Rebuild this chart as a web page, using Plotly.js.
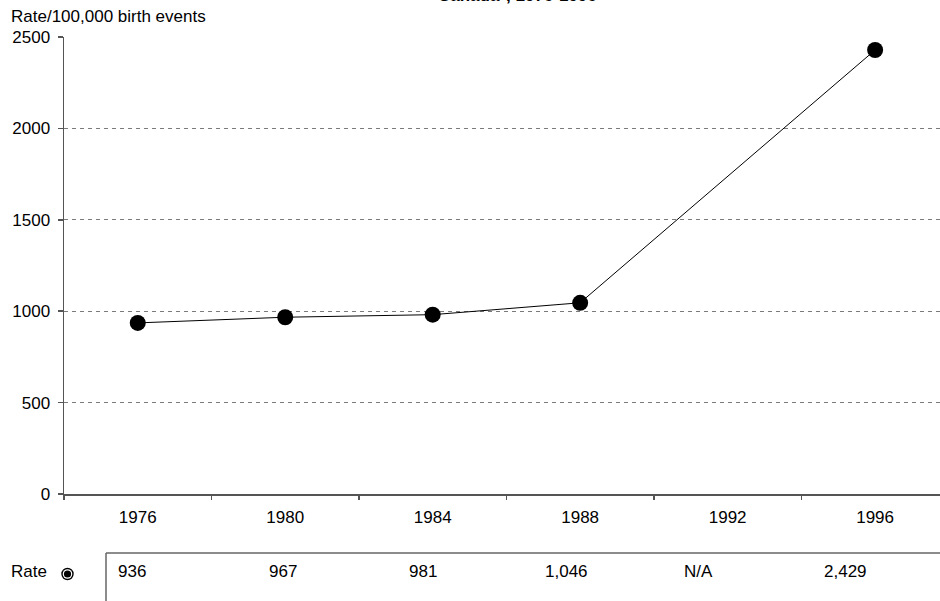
<!DOCTYPE html>
<html>
<head>
<meta charset="utf-8">
<script src="https://cdn.plot.ly/plotly-3.0.1.min.js"></script>
<style>
  html, body { margin: 0; padding: 0; background: #fff; }
  #chart { width: 940px; height: 601px; }
</style>
</head>
<body>
<div id="chart"></div>
<script>
// Rate per 100,000 birth events, Canada, 1976-1996 (1992 not available)
const years = ['1976', '1980', '1984', '1988', '1992', '1996'];
const rates = [936, 967, 981, 1046, null, 2429];
const tableLabels = ['936', '967', '981', '1,046', 'N/A', '2,429'];
const seriesName = 'Rate';
const chartTitle = 'Canada*, 1976-1996';
const yAxisLabel = 'Rate/100,000 birth events';

const W = 940, H = 601;
const M = { l: 64, r: 0, t: 37, b: 107 };
const plotW = W - M.l - M.r;
const plotH = H - M.t - M.b;
// pixel -> paper coordinate helpers for the table below the plot
const px2x = px => (px - M.l) / plotW;
const py2y = py => (H - M.b - py) / plotH;

const FONT = 'Liberation Sans, Arial, sans-serif';
const FS = 17;
const AXIS = '#555555';

// data table below the plot
const tableTop = 553;
const tableLeft = 106;
const rowY = 571;
const colLeft = [116, 267, 407, 543, 682, 822];

const annotations = [
  {
    text: yAxisLabel, xref: 'paper', yref: 'paper',
    x: px2x(9), y: py2y(17), xanchor: 'left', yanchor: 'middle',
    showarrow: false, font: { family: FONT, size: FS, color: '#000' }
  },
  {
    text: '<b>' + chartTitle + '</b>', xref: 'paper', yref: 'paper',
    x: px2x(517), y: py2y(7), xanchor: 'center', yanchor: 'bottom',
    showarrow: false, font: { family: FONT, size: FS, color: '#000' }
  },
  {
    text: seriesName, xref: 'paper', yref: 'paper',
    x: px2x(9), y: py2y(rowY), xanchor: 'left', yanchor: 'middle',
    showarrow: false, font: { family: FONT, size: FS, color: '#000' }
  }
];
tableLabels.forEach((t, i) => {
  annotations.push({
    text: t, xref: 'paper', yref: 'paper',
    x: px2x(colLeft[i]), y: py2y(rowY), xanchor: 'left', yanchor: 'middle',
    showarrow: false, font: { family: FONT, size: FS, color: '#000' }
  });
});

// legend key: ringed dot
const keyX = px2x(67.5), keyY = py2y(574);
const ring = (r, fill) => ({
  type: 'circle', xref: 'paper', yref: 'paper',
  xsizemode: 'pixel', ysizemode: 'pixel',
  xanchor: keyX, yanchor: keyY,
  x0: -r, x1: r, y0: -r, y1: r,
  fillcolor: fill, line: { width: 0 }
});

const shapes = [
  ring(6.2, '#000'), ring(4.8, '#fff'), ring(3.6, '#000'),
  {
    type: 'line', xref: 'paper', yref: 'paper',
    x0: px2x(tableLeft), x1: px2x(W), y0: py2y(tableTop), y1: py2y(tableTop),
    line: { color: '#666', width: 1.5 }
  },
  {
    type: 'line', xref: 'paper', yref: 'paper',
    x0: px2x(tableLeft), x1: px2x(tableLeft), y0: py2y(tableTop), y1: py2y(H + 2),
    line: { color: '#666', width: 1.5 }
  }
];

const trace = {
  type: 'scatter',
  mode: 'lines+markers',
  name: seriesName,
  x: years,
  y: rates,
  connectgaps: true,
  line: { color: '#000', width: 1 },
  marker: { color: '#000', size: 16, symbol: 'circle' },
  cliponaxis: false,
  hoverinfo: 'x+y'
};

const layout = {
  width: W, height: H,
  margin: M,
  paper_bgcolor: '#fff', plot_bgcolor: '#fff',
  showlegend: false,
  font: { family: FONT, size: FS, color: '#000' },
  xaxis: {
    type: 'category',
    categoryorder: 'array', categoryarray: years,
    range: [-0.5, 5.44],
    tickson: 'boundaries',
    ticks: 'outside', ticklen: 4, tickcolor: AXIS, tickwidth: 1.5,
    showline: true, linecolor: AXIS, linewidth: 1.5,
    showgrid: false, zeroline: false,
    ticklabelstandoff: 7,
    tickfont: { family: FONT, size: FS, color: '#000' }
  },
  yaxis: {
    range: [0, 2500],
    tick0: 0, dtick: 500,
    ticks: 'outside', ticklen: 5, tickcolor: AXIS, tickwidth: 1.5,
    showline: true, linecolor: AXIS, linewidth: 1.5,
    showgrid: true, gridcolor: '#7a7a7a', gridwidth: 1, griddash: '4px,4px',
    zeroline: false,
    ticklabelstandoff: 4,
    tickfont: { family: FONT, size: FS, color: '#000' }
  },
  annotations: annotations,
  shapes: shapes
};

Plotly.newPlot('chart', [trace], layout, { displayModeBar: false, staticPlot: true });
</script>
</body>
</html>
